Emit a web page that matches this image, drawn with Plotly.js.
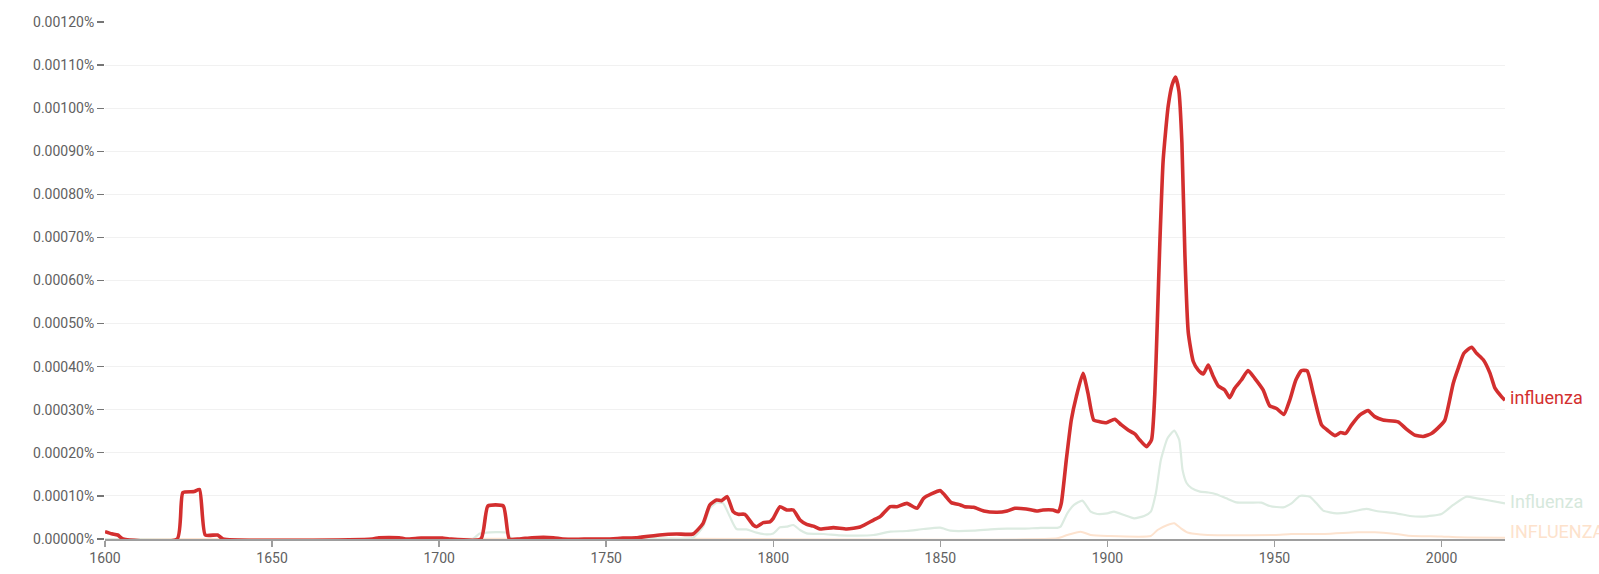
<!DOCTYPE html>
<html>
<head>
<meta charset="utf-8">
<script src="https://cdn.plot.ly/plotly-3.0.1.min.js"></script>
<style>html,body{margin:0;padding:0;background:#fff;}#chart{width:1599px;height:574px;}</style>
</head>
<body>
<div id="chart"></div>
<script>
// influenza (red)
const redYears = [1600,1602,1603.8,1605.4,1621.6,1623.3,1626.7,1628.3,1630.0,1633.7,1635.3,1680,1682,1688,1690,1694.6,1701,1703,1712.5,1714.6,1719.2,1721.0,1724,1727.8,1734.2,1737,1750,1755,1759,
1760,1766,1771,1776,1779,1781,1783,1784.5,1786.2,1788,1789.5,1791.5,1794,1795,1797,1799,1800,1802,1804,1806,1808,1810,1812,1814,1818,1822,1826,1830,1832,1835,1837,1840,1843,1845,1847.3,1850,1851.3,1853.3,1856,1857.3,1860,1863,1867,1870,1872.3,1875.7,1878.8,1880.7,1883.7,1885.3,
1886.2,1887.7,1889.2,1890.7,1892.7,1894.2,1895.9,1897.7,1899.7,1902.2,1904.2,1906.2,1908.2,1909.7,1911.7,1913.2,1914.2,1914.9,1915.7,1916.7,1918.2,1919.4,1920.4,1921.4,1922.3,1923.2,1924.2,1925.7,1927.2,1928.7,1930.2,1931.7,1933.2,1935.1,1936.6,1938.1,1940.1,1942.1,1944.1,1946.6,1948.6,1950.6,1952.8,1954.6,1956.4,1958.1,1959.8,1961.6,1964.1,1966.1,1968.1,1969.8,1971.3,1973.1,1975.6,1978.0,1980.0,1982.5,1987.0,1989.5,1992.0,1994.5,1997.0,1999.5,2001.0,2003.5,2005.0,2006.7,2009.0,2010.5,2012.5,2014.5,2016.0,2018.0,2019];
const redValues = [0.000017,0.000012,0.0000093,0,0,0.0001076,0.00011,0.000115,0.0000093,0.0000093,0,0,0.000003,0.000003,0,0.000002,0.000002,0,0,0.0000766,0.0000766,0,0,0.000003,0.000003,0,0,0.000002,0.000003,
0.0000039,0.0000093,0.0000116,0.0000116,0.0000364,0.000079,0.0000906,0.000089,0.0000983,0.0000635,0.0000573,0.0000573,0.0000325,0.0000286,0.000038,0.00004,0.000048,0.000075,0.0000673,0.0000673,0.000044,0.000034,0.00003,0.0000232,0.0000263,0.0000232,0.0000279,0.000044,0.0000519,0.000075,0.000075,0.0000828,0.0000712,0.0000944,0.0001045,0.0001122,0.0001022,0.0000844,0.000079,0.000075,0.0000735,0.000065,0.000062,0.000065,0.0000712,0.0000697,0.000065,0.0000673,0.0000673,0.0000635,
0.0000828,0.0001834,0.0002763,0.0003305,0.0003847,0.0003382,0.0002763,0.0002724,0.00027,0.0002779,0.0002647,0.0002531,0.0002438,0.0002299,0.0002144,0.0002299,0.0003382,0.000493,0.000687,0.00088,0.001005,0.001055,0.001072,0.00104,0.00092,0.00066,0.00048,0.000412,0.000392,0.000383,0.000404,0.000377,0.000355,0.000346,0.000328,0.00035,0.000369,0.000391,0.000373,0.000346,0.000309,0.000303,0.000289,0.000323,0.000369,0.000391,0.00039,0.000338,0.000265,0.000251,0.00024,0.000247,0.000245,0.000265,0.000288,0.000298,0.000284,0.000276,0.000272,0.000255,0.000241,0.000238,0.000245,0.000262,0.000276,0.000361,0.000396,0.000431,0.000445,0.000431,0.000416,0.000385,0.00035,0.00033,0.000322];

// Influenza (light green)
const greenYears = [1600,1710,1712,1714,1720,1722,1760,1776,1779,1781,1783,1785,1787,1789,1792,1795,1798,1800,1802,1804,1806,1808,1810,1815,1820,1825,1830,1835,1840,1845,1850,1853,1860,1865,1870,1875,1880,1885,1886,1888,1890,1892.5,1895,1897,1900,1902,1905,1908,1911,1913,1914.5,1916,1918,1920,1921.5,1922.5,1923.7,1925.2,1927.7,1930.2,1932.6,1935.6,1938.6,1942.6,1946.1,1948.6,1952.6,1955.1,1957.6,1960.6,1962.6,1964.6,1968.6,1971.6,1977.5,1980.5,1986.5,1990.5,1994.5,2000,2003.5,2007.5,2010.5,2013.5,2019];
const greenValues = [0,0,0.000012,0.000015,0.000015,0,0.000002,0.000003,0.0000286,0.0000712,0.0000844,0.0000828,0.000052,0.0000232,0.0000224,0.0000147,0.0000108,0.000013,0.000027,0.0000286,0.0000325,0.0000209,0.000013,0.0000116,0.0000085,0.0000077,0.0000093,0.000017,0.0000186,0.0000232,0.0000263,0.0000193,0.0000193,0.0000224,0.000024,0.000024,0.000026,0.000026,0.0000286,0.0000596,0.000079,0.000089,0.0000635,0.000058,0.0000596,0.0000635,0.0000557,0.000048,0.0000534,0.0000635,0.000106,0.0001834,0.0002337,0.0002515,0.0002299,0.00016,0.00013,0.000118,0.00011,0.000108,0.000104,0.0000944,0.0000851,0.0000844,0.0000844,0.0000766,0.0000735,0.0000828,0.0001,0.0000983,0.0000828,0.0000658,0.0000596,0.0000611,0.0000697,0.000065,0.0000596,0.0000534,0.0000519,0.000058,0.000079,0.0000983,0.0000944,0.0000906,0.0000828];

// INFLUENZA (light orange)
const orangeYears = [1600,1760,1885,1888,1892,1895,1900,1913,1915,1918,1920,1922,1924,1926,1930,1950,1955,1965,1975,1980,1985,1990,2000,2005,2019];
const orangeValues = [0,0.000001,0.0000015,0.0000093,0.000017,0.0000093,0.000007,0.000007,0.0000209,0.0000325,0.0000364,0.0000248,0.000015,0.000012,0.0000093,0.0000093,0.0000116,0.0000116,0.0000155,0.0000155,0.000013,0.0000077,0.000006,0.000004,0.000003];

const seriesNames = ['influenza','Influenza','INFLUENZA'];
const xTicks = [1600,1650,1700,1750,1800,1850,1900,1950,2000];
const yTicks = [0,0.0001,0.0002,0.0003,0.0004,0.0005,0.0006,0.0007,0.0008,0.0009,0.0010,0.0011,0.0012];
const yTickLabels = ['0.00000%','0.00010%','0.00020%','0.00030%','0.00040%','0.00050%','0.00060%','0.00070%','0.00080%','0.00090%','0.00100%','0.00110%','0.00120%'];

const RED = '#d32f2f', GREEN = '#dcebe1', ORANGE = '#fde3cf';
const GREEN_TXT = '#d6e8dc', ORANGE_TXT = '#fde2cc';

const traces = [
  {x: orangeYears, y: orangeValues, name: seriesNames[2], mode:'lines', line:{color:ORANGE, width:2, shape:'spline', smoothing:0.5}},
  {x: greenYears, y: greenValues, name: seriesNames[1], mode:'lines', line:{color:GREEN, width:2.2, shape:'spline', smoothing:0.5}},
  {x: redYears, y: redValues, name: seriesNames[0], mode:'lines', line:{color:RED, width:3.6, shape:'spline', smoothing:0.5}}
];

function lastOf(a){return a[a.length-1];}
const annotations = [
  {x: lastOf(redYears), y: lastOf(redValues), text: seriesNames[0], color: RED, yshift: 3},
  {x: lastOf(greenYears), y: lastOf(greenValues), text: seriesNames[1], color: GREEN_TXT, yshift: 2},
  {x: lastOf(orangeYears), y: lastOf(orangeValues), text: seriesNames[2], color: ORANGE_TXT, yshift: 6}
].map(a => ({x:a.x, y:a.y, xref:'x', yref:'y', text:a.text, showarrow:false, xanchor:'left', yanchor:'middle', xshift:3, yshift:a.yshift, font:{family:'Roboto', size:18, color:a.color}}));

const layout = {
  width:1599, height:574, autosize:false,
  margin:{l:105, r:94, t:22, b:35, pad:0},
  paper_bgcolor:'#ffffff', plot_bgcolor:'#ffffff',
  showlegend:false, hovermode:false,
  xaxis:{range:[1600,2019], tickvals:xTicks, ticktext:xTicks.map(String), ticks:'outside', ticklen:6, tickwidth:1.5, tickcolor:'#9e9e9e',
    showline:true, linecolor:'#9e9e9e', linewidth:1.5, showgrid:false, zeroline:false,
    tickfont:{family:'Roboto', size:14, color:'#616161'}},
  yaxis:{range:[0,0.0012], tickvals:yTicks, ticktext:yTickLabels, ticks:'outside', ticklen:7, tickwidth:1.2, tickcolor:'#757575',
    showline:false, showgrid:true, gridcolor:'#f1f1f1', gridwidth:1, zeroline:false,
    tickfont:{family:'Roboto', size:14, color:'#616161'}},
  annotations: annotations
};

Plotly.newPlot('chart', traces, layout, {displayModeBar:false, staticPlot:true});
</script>
</body>
</html>
